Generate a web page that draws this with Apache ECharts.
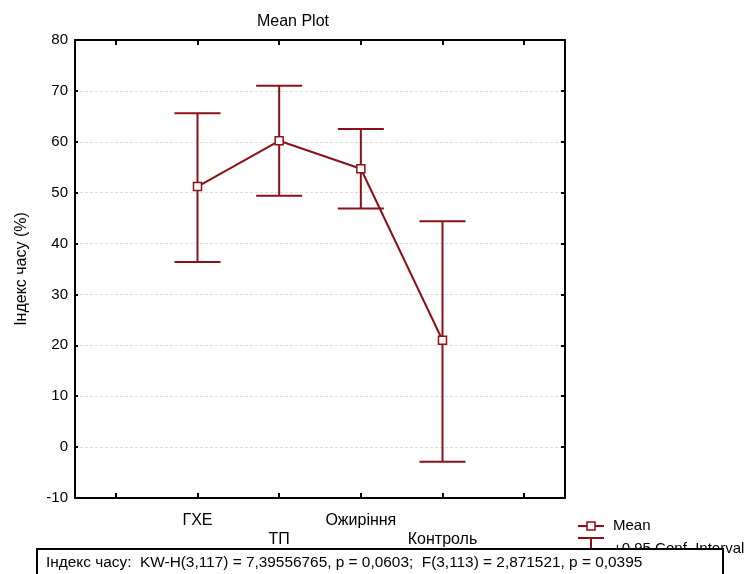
<!DOCTYPE html>
<html>
<head>
<meta charset="utf-8">
<script src="https://cdn.jsdelivr.net/npm/echarts@6/dist/echarts.min.js"></script>
<style>html,body{margin:0;padding:0;background:#fff}#c{width:754px;height:574px}</style>
</head>
<body>
<div id="c"></div>
<script>
const categories = ['ГХЕ', 'ТП', 'Ожиріння', 'Контроль'];
const meanValues = [51.2, 60.2, 54.7, 21.0];
const upperCI = [65.6, 71.0, 62.5, 44.4];
const lowerCI = [36.4, 49.4, 46.9, -2.9];
const yTicks = [-10, 0, 10, 20, 30, 40, 50, 60, 70, 80];
const statsText = 'Індекс часу:  KW-H(3,117) = 7,39556765, p = 0,0603;  F(3,113) = 2,871521, p = 0,0395';

const RED = '#8c1015';
const FONT = 'Liberation Sans, Arial, sans-serif';
const axisCats = [''].concat(categories, ['']);

const chart = echarts.init(document.getElementById('c'), null, {renderer: 'canvas'});
const errData = categories.map((c, i) => [c, lowerCI[i], upperCI[i]]);

chart.setOption({
  animation: false,
  backgroundColor: '#fff',
  title: {
    text: 'Mean Plot', left: 288, top: 9, textAlign: 'center',
    textStyle: {fontFamily: FONT, fontSize: 16, fontWeight: 'normal', color: '#000'}
  },
  grid: {left: 75, right: 189, top: 40, bottom: 76},
  xAxis: [{
    type: 'category', data: axisCats, boundaryGap: true, position: 'bottom',
    axisLine: {onZero: false, lineStyle: {color: '#000', width: 2}},
    axisTick: {show: true, interval: 0, inside: true, length: 5, alignWithLabel: true, lineStyle: {color: '#000', width: 2}},
    axisLabel: {
      interval: 0, fontFamily: FONT, fontSize: 16, lineHeight: 19, color: '#000', margin: 13,
      formatter: function (v, idx) { return (idx % 2 === 0) ? '\n' + v : v; }
    },
    splitLine: {show: false}
  }, {
    type: 'category', data: axisCats, boundaryGap: true, position: 'top',
    axisLine: {onZero: false, lineStyle: {color: '#000', width: 2}},
    axisTick: {show: true, interval: 0, inside: true, length: 5, alignWithLabel: true, lineStyle: {color: '#000', width: 2}},
    axisLabel: {show: false, interval: 0}, splitLine: {show: false}
  }],
  yAxis: [{
    type: 'value', min: -10, max: 80, interval: 10, position: 'left',
    name: 'Індекс часу (%)', nameLocation: 'middle', nameGap: 45, nameRotate: 90,
    nameTextStyle: {fontFamily: FONT, fontSize: 16, color: '#000'},
    axisLine: {show: true, onZero: false, lineStyle: {color: '#000', width: 2}},
    axisTick: {show: true, inside: true, length: 3, lineStyle: {color: '#000', width: 2}},
    axisLabel: {fontFamily: FONT, fontSize: 15, color: '#000', margin: 7,
      formatter: function (v) { return yTicks.indexOf(v) >= 0 ? String(v) : ''; }},
    splitLine: {show: true, lineStyle: {color: '#dcdcdc', type: [3, 2], width: 1}}
  }, {
    type: 'value', min: -10, max: 80, interval: 10, position: 'right',
    axisLine: {show: true, onZero: false, lineStyle: {color: '#000', width: 2}},
    axisTick: {show: true, inside: true, length: 4, lineStyle: {color: '#000', width: 2}},
    axisLabel: {show: false}, splitLine: {show: false}
  }],
  series: [{
    type: 'custom',
    xAxisIndex: 0, yAxisIndex: 0,
    data: errData,
    z: 2,
    renderItem: function (params, api) {
      const x = api.value(0);
      const lo = api.coord([x, api.value(1)]);
      const hi = api.coord([x, api.value(2)]);
      const hw = 23;
      return {
        type: 'group',
        children: [
          {type: 'line', shape: {x1: lo[0], y1: lo[1], x2: hi[0], y2: hi[1]}, style: {stroke: RED, lineWidth: 2}},
          {type: 'line', shape: {x1: hi[0] - hw, y1: hi[1], x2: hi[0] + hw, y2: hi[1]}, style: {stroke: RED, lineWidth: 2}},
          {type: 'line', shape: {x1: lo[0] - hw, y1: lo[1], x2: lo[0] + hw, y2: lo[1]}, style: {stroke: RED, lineWidth: 2}}
        ]
      };
    }
  }, {
    type: 'line',
    xAxisIndex: 0, yAxisIndex: 0,
    data: categories.map((c, i) => [c, meanValues[i]]),
    symbol: 'rect', symbolSize: 8, z: 3,
    lineStyle: {color: RED, width: 2},
    itemStyle: {color: '#fff', borderColor: RED, borderWidth: 1.5}
  }],
  graphic: [
    {type: 'line', shape: {x1: 578, y1: 526, x2: 604, y2: 526}, style: {stroke: RED, lineWidth: 2}, z: 10},
    {type: 'rect', shape: {x: 587, y: 522, width: 8, height: 8}, style: {fill: '#fff', stroke: RED, lineWidth: 1.5}, z: 11},
    {type: 'text', x: 613, y: 526, style: {text: 'Mean', font: '15px ' + FONT, fill: '#000', textVerticalAlign: 'middle', textBaseline: 'middle'}, z: 10},
    {type: 'line', shape: {x1: 578, y1: 538, x2: 604, y2: 538}, style: {stroke: RED, lineWidth: 2}, z: 10},
    {type: 'line', shape: {x1: 591, y1: 538, x2: 591, y2: 552}, style: {stroke: RED, lineWidth: 2}, z: 10},
    {type: 'text', x: 613, y: 549, style: {text: '+0.95 Conf. Interval', font: '15px ' + FONT, fill: '#000', textVerticalAlign: 'middle', textBaseline: 'middle'}, z: 10},
    {type: 'rect', shape: {x: 37, y: 549, width: 686, height: 40}, style: {fill: '#fff', stroke: '#000', lineWidth: 2}, z: 20},
    {type: 'text', x: 46, y: 563, style: {text: statsText, font: '15.4px ' + FONT, fill: '#000', textVerticalAlign: 'middle', textBaseline: 'middle'}, z: 21}
  ]
});
</script>
</body>
</html>
